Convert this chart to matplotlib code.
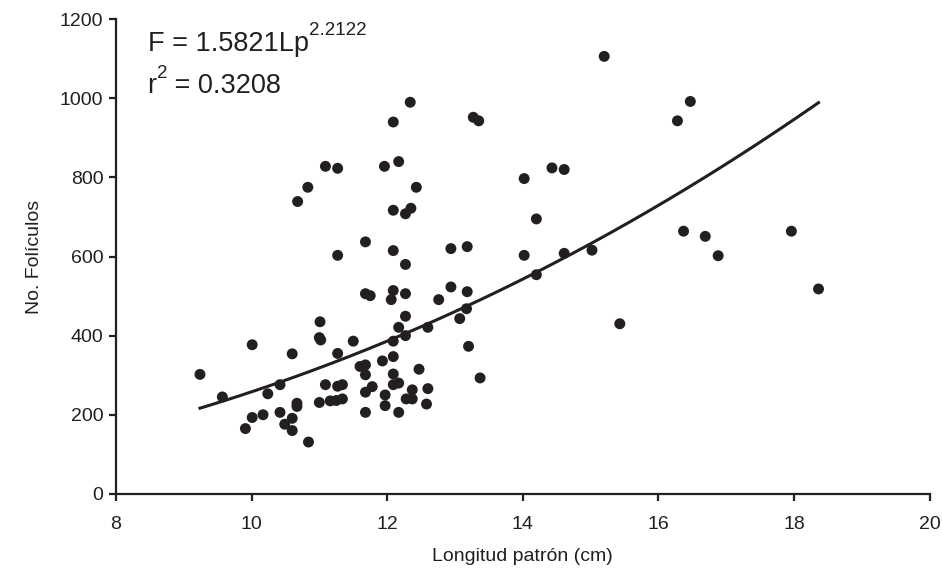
import matplotlib
matplotlib.use('Agg')
import matplotlib.pyplot as plt
import numpy as np

plt.rcParams['font.family'] = ['Liberation Sans', 'DejaVu Sans']

# Longitud patrón (cm) y número de folículos
longitud = [9.24, 9.57, 10.01, 10.01, 10.17, 9.91, 10.24, 10.42, 10.42, 10.60,
            10.60, 10.49, 10.60, 10.67, 10.67, 10.84, 11.01, 11.00, 11.02, 11.00,
            11.09, 11.27, 11.34, 11.16, 11.25, 11.34, 11.27, 11.50, 11.60, 11.68,
            11.68, 11.93, 12.09, 12.47, 12.09, 12.09, 12.17, 11.68, 11.78, 11.97,
            11.97, 12.37, 12.28, 12.37, 12.60, 12.58, 11.68, 12.17, 12.09, 12.17,
            12.27, 12.27, 12.60, 13.07, 13.17, 13.20, 13.37, 12.76, 12.06, 12.09,
            11.68, 11.75, 12.27, 12.94, 13.18, 12.09, 12.34, 11.09, 11.27, 11.96,
            12.17, 10.83, 10.68, 12.43, 12.09, 12.27, 12.35, 11.68, 11.27, 12.09,
            12.27, 12.94, 13.18, 15.20, 13.27, 13.35, 14.02, 14.43, 14.61, 14.20,
            14.02, 14.61, 15.02, 14.20, 16.47, 16.28, 16.37, 16.69, 16.88, 17.96,
            18.36, 15.43]
foliculos = [302, 245, 377, 193, 200, 165, 253, 276, 206, 354,
             191, 176, 160, 229, 221, 131, 435, 395, 389, 231,
             276, 272, 276, 235, 236, 240, 355, 386, 322, 326,
             301, 336, 347, 315, 303, 276, 280, 257, 271, 250,
             223, 263, 240, 240, 266, 227, 206, 206, 386, 421,
             449, 400, 421, 443, 468, 373, 293, 491, 491, 514,
             506, 501, 506, 523, 511, 940, 990, 828, 823, 828,
             840, 775, 739, 775, 717, 708, 722, 637, 603, 615,
             580, 620, 625, 1106, 952, 943, 797, 824, 820, 695,
             603, 608, 616, 554, 992, 943, 664, 651, 602, 664,
             518, 430]

# modelo potencial ajustado
a = 1.5821
b = 2.2122

fig = plt.figure(figsize=(9.42, 5.81), dpi=100)
ax = fig.add_axes([0.123, 0.150, 0.864, 0.817])

ax.scatter(longitud, foliculos, s=62, color='#231f20', edgecolors='none', zorder=3)

xs = np.linspace(min(longitud), max(longitud), 200)
ax.plot(xs, a * xs ** b, color='#231f20', linewidth=2.2, zorder=2)

ax.set_xlim(8, 20)
ax.set_ylim(0, 1200)
ax.set_xticks(np.arange(8, 21, 2))
ax.set_yticks(np.arange(0, 1201, 200))

for s in ['top', 'right']:
    ax.spines[s].set_visible(False)
for s in ['left', 'bottom']:
    ax.spines[s].set_linewidth(1.6)
    ax.spines[s].set_color('#231f20')
ax.tick_params(direction='out', length=5, width=1.6, color='#231f20',
               labelsize=14, labelcolor='#231f20')
ax.tick_params(axis='x', pad=11)
ax.tick_params(axis='y', pad=4)

ax.set_xlabel('Longitud patrón (cm)', fontsize=14, color='#231f20', labelpad=11)
ax.set_ylabel('No. Folículos', fontsize=14, color='#231f20', labelpad=12)

# ecuación y coeficiente de determinación (superíndices colocados a mano)
t1 = ax.text(0.039, 0.92, 'F = 1.5821Lp', transform=ax.transAxes,
             fontsize=19.5, color='#231f20', va='bottom')
ax.annotate('2.2122', xy=(1.0, 0.68), xycoords=t1, va='bottom',
            fontsize=13.5, color='#231f20')
t2 = ax.text(0.039, 0.832, 'r', transform=ax.transAxes,
             fontsize=19.5, color='#231f20', va='bottom')
sup = ax.annotate('2', xy=(1.0, 0.66), xycoords=t2, va='bottom',
                  fontsize=13.5, color='#231f20')
ax.annotate(' = 0.3208', xy=(1.0, 0.0), xycoords=(sup, t2), va='bottom',
            fontsize=19.5, color='#231f20')

fig.savefig('out.png', dpi=100)
